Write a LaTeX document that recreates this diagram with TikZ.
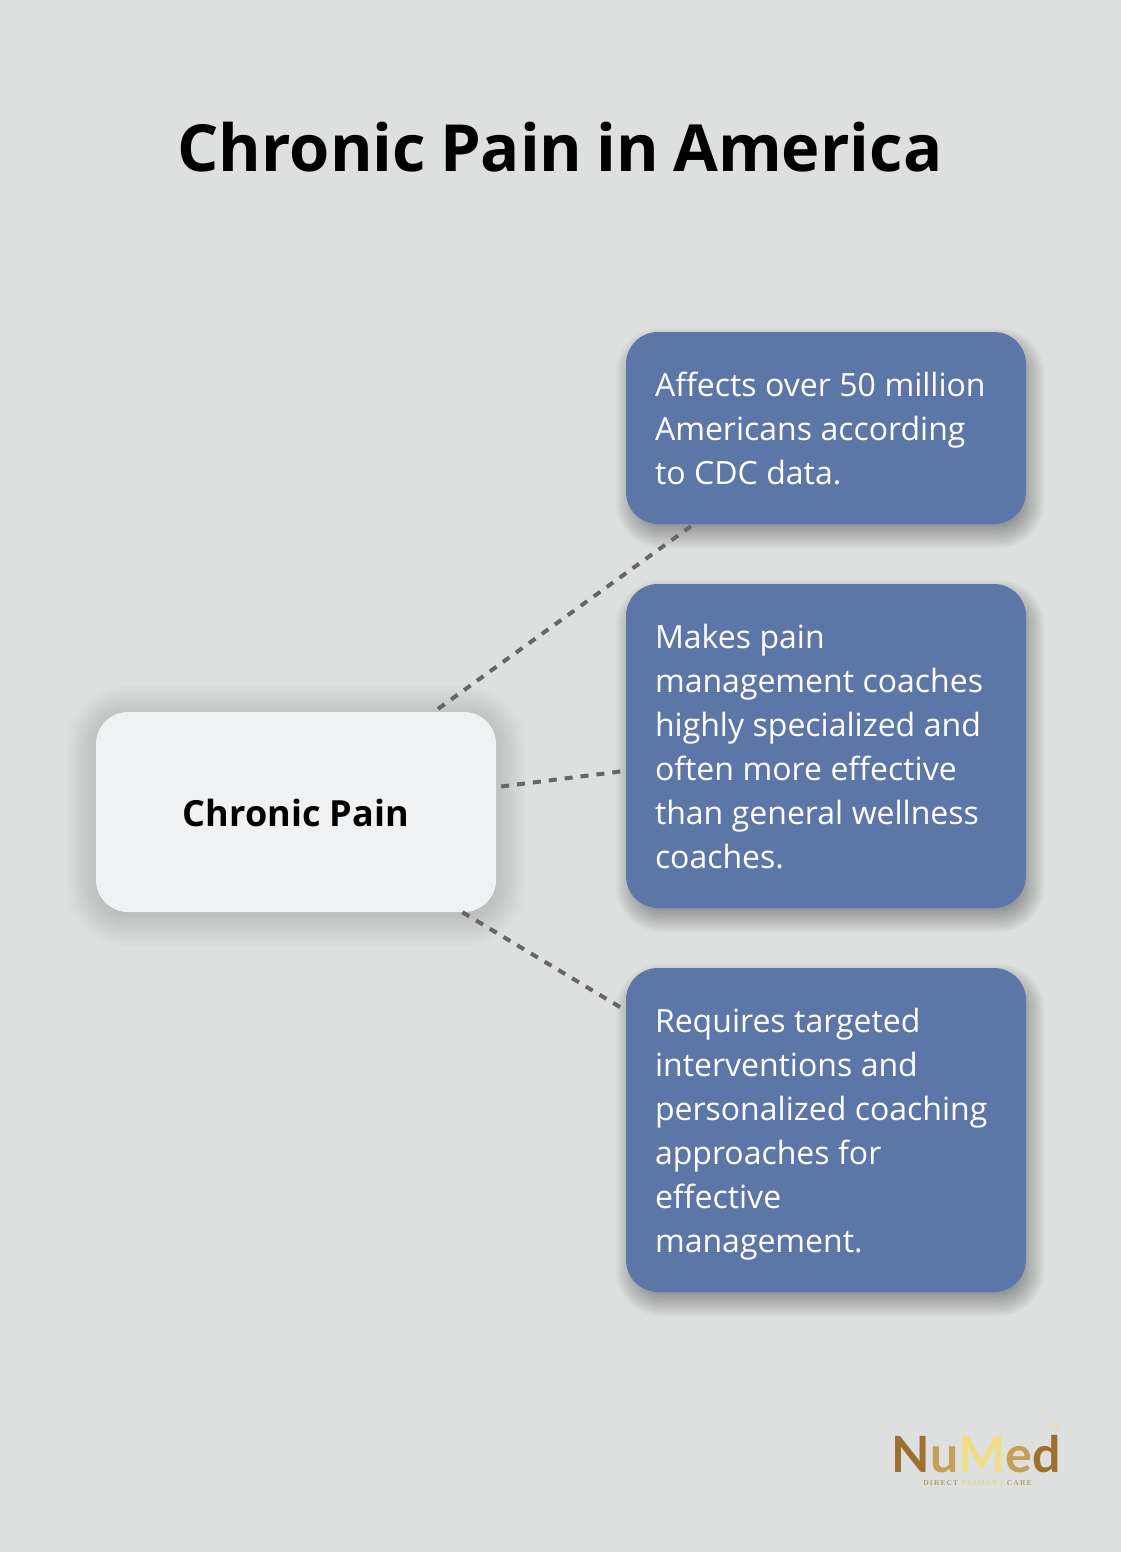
\documentclass[tikz,border=0pt]{standalone}
\usepackage{fontspec}
\setmainfont{Open Sans}
\newfontfamily\logofont[LetterSpace=-9]{Lato}
\newfontfamily\logosmall[LetterSpace=15]{Liberation Serif}
\usetikzlibrary{positioning}
\definecolor{pagebg}{HTML}{DEE0DF}
\definecolor{factblue}{HTML}{5D76A8}
\definecolor{painbox}{HTML}{F0F1F3}
\definecolor{linkgrey}{HTML}{666666}
\definecolor{golddark}{HTML}{9E6F2E}
\definecolor{goldmid}{HTML}{C49F55}
\definecolor{goldpale}{HTML}{F0DD88}
\definecolor{tagmid}{HTML}{B99A6B}
\definecolor{tagpale}{HTML}{E3D3A0}
\pgfdeclarelayer{shade}
\pgfsetlayers{shade,main}
\newcommand{\factfirst}{\rule{0pt}{38.8pt}}
\newcommand{\factlast}{\rule[-13.2pt]{0pt}{13.2pt}}
\tikzset{
	fact/.style={fill=factblue,text=white,rounded corners=32pt,minimum width=400pt,inner xsep=29pt,inner ysep=0pt,text width=342pt,align=left,
		font=\fontsize{32}{44}\selectfont,execute at begin node={\spaceskip=8.5pt\relax\factfirst},execute at end node=\factlast},
	pain/.style={fill=painbox,rounded corners=32pt,minimum width=400pt,minimum height=200pt,text height=29pt,text depth=0pt,font=\fontsize{36}{44}\selectfont\bfseries},
	link/.style={draw=linkgrey,line width=4pt,dash pattern=on 8pt off 8pt}
}
% soft shadow: box name, x offset, y offset, spread, strength
\newcommand{\softshade}[5]{
	\foreach \k in {-10,...,10} {
		\pgfmathsetmacro{\g}{\k*#4/10}
		\pgfmathsetmacro{\r}{max(32+\g,2)}
		\fill [black,opacity=#5,rounded corners=\r pt]
			([shift={(#2-\g pt,#3+\g pt)}]#1.north west) rectangle ([shift={(#2+\g pt,#3-\g pt)}]#1.south east);
	}
}

\begin{document}
\begin{tikzpicture}[x=1pt,y=-1pt]

\useasboundingbox (0,0) rectangle (1120,1552);
\begin{pgfonlayer}{shade}
\fill [pagebg] (-3,-3) rectangle (1123,1555);
\end{pgfonlayer}

\node (title) at (560,147) {\fontsize{65}{80}\selectfont\bfseries\spaceskip=14pt\relax Chronic Pain in America};

\node [pain] (chronic) at (296,812) {Chronic Pain};
\node [fact,minimum height=192pt] (millions) at (826,428) {Affects over 50 million\\Americans according\\to CDC data.};
\node [fact,minimum height=324pt] (coaches) at (826,746) {Makes pain\\management coaches\\highly specialized and\\often more effective\\than general wellness\\coaches.};
\node [fact,minimum height=324pt] (targeted) at (826,1130) {Requires targeted\\interventions and\\personalized coaching\\approaches for\\effective\\management.};

\begin{pgfonlayer}{shade}
\softshade{chronic}{0pt}{-4pt}{30}{.011}
\softshade{millions}{4pt}{-10pt}{14}{.02}
\softshade{coaches}{4pt}{-10pt}{14}{.02}
\softshade{targeted}{4pt}{-10pt}{14}{.02}
\end{pgfonlayer}

\draw [link,shorten <=5pt,shorten >=3.6pt] (chronic) -- (millions);
\draw [link,shorten <=5pt,shorten >=5pt] (chronic) -- (coaches);
\draw [link] (chronic) -- (targeted);

\node [inner sep=0pt] (logo) at (976.5,1454) {\logofont\fontsize{50}{50}\selectfont\bfseries\textcolor{golddark}{N}\textcolor{goldmid}{u}\textcolor{goldpale}{M}\textcolor{goldmid}{e}\textcolor{golddark}{d}};
\node [circle,draw=goldpale,line width=.6pt,minimum size=7pt,inner sep=0pt] (emblem) at (1054,1426.5) {};
\node [inner sep=0pt] (tagline) at (977.5,1483.5) {\logosmall\fontsize{7.5}{8}\selectfont\bfseries\textcolor{tagmid}{DIRECT }\textcolor{tagpale}{PRIMARY }\textcolor{tagmid}{CARE}};

\end{tikzpicture}
\end{document}
